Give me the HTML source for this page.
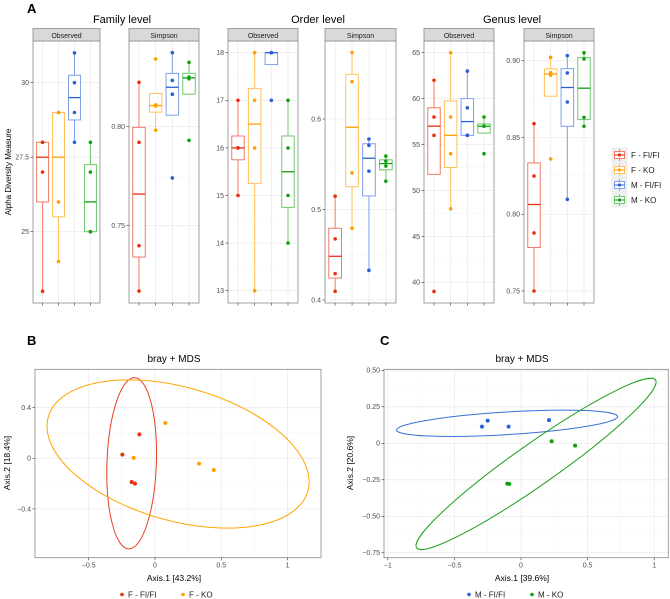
<!DOCTYPE html>
<html><head><meta charset="utf-8">
<style>
body{margin:0;background:#fff;}
svg{display:block;font-family:"Liberation Sans","DejaVu Sans",sans-serif;}
</style></head>
<body>
<svg id="fig" width="670" height="599" viewBox="0 0 670 599" xmlns="http://www.w3.org/2000/svg">
<text x="27" y="13" font-size="13" font-weight="bold">A</text>
<text x="122" y="23" font-size="11" text-anchor="middle">Family level</text>
<text x="318" y="23" font-size="11" text-anchor="middle">Order level</text>
<text x="512" y="23" font-size="11" text-anchor="middle">Genus level</text>
<text transform="translate(11,172) rotate(-90)" font-size="8" text-anchor="middle">Alpha Diversity Measure</text>
<text x="27" y="345" font-size="13" font-weight="bold">B</text>
<text x="380" y="345" font-size="13" font-weight="bold">C</text>
<text x="174" y="362" font-size="10" text-anchor="middle">bray + MDS</text>
<text x="522" y="362" font-size="10" text-anchor="middle">bray + MDS</text>
<text x="174" y="581" font-size="8.5" text-anchor="middle">Axis.1 [43.2%]</text>
<text transform="translate(10,463) rotate(-90)" font-size="8.5" text-anchor="middle">Axis.2 [18.4%]</text>
<text x="522" y="581" font-size="8.5" text-anchor="middle">Axis.1 [39.6%]</text>
<text transform="translate(353,463) rotate(-90)" font-size="8.5" text-anchor="middle">Axis.2 [20.6%]</text>
</svg>
<script>
const NS="http://www.w3.org/2000/svg";
const svg=document.getElementById('fig');
const groups=["F - FI/FI","F - KO","M - FI/FI","M - KO"];
const lineCols=["#f07a66","#ffc15a","#7fa0ea","#6cc86c"];
const darkCols=["#e8300e","#ff9f00","#2b5fd6","#10a010"];
// panel A data (4 values per group)
const famObs=[[28,28,27,23],[29,29,26,24],[31,30,29,28],[28,27,25,25]];
const famSimp=[[0.8224,0.7921,0.7399,0.7170],[0.8342,0.8110,0.8104,0.7982],[0.8374,0.8234,0.8164,0.7741],[0.8325,0.8251,0.8242,0.7931]];
const ordObs=[[17,16,16,15],[18,17,16,13],[18,18,18,17],[17,16,15,14]];
const ordSimp=[[0.5147,0.4675,0.4291,0.4096],[0.6734,0.6413,0.5405,0.4793],[0.5779,0.5709,0.5424,0.4328],[0.559,0.5535,0.548,0.5313]];
const genObs=[[62,58,56,39],[65,58,54,48],[63,59,56,56],[58,57,57,54]];
const genSimp=[[0.859,0.8249,0.7878,0.75],[0.9022,0.8922,0.8905,0.836],[0.9033,0.892,0.8731,0.8097],[0.9052,0.9011,0.8631,0.8573]];
const famObsTicks=[25,27.5,30], famObsTickLabels=["25","27.5","30"];
const famSimpTicks=[0.75,0.80], famSimpTickLabels=["0.75","0.80"];
const ordObsTicks=[13,14,15,16,17,18], ordObsTickLabels=["13","14","15","16","17","18"];
const ordSimpTicks=[0.4,0.5,0.6], ordSimpTickLabels=["0.4","0.5","0.6"];
const genObsTicks=[40,45,50,55,60,65], genObsTickLabels=["40","45","50","55","60","65"];
const genSimpTicks=[0.75,0.80,0.85,0.90], genSimpTickLabels=["0.75","0.80","0.85","0.90"];
// panel B/C data
const bRedX=[-0.246,-0.118,-0.176,-0.151], bRedY=[0.029,0.189,-0.187,-0.2];
const bOrgX=[-0.161,0.078,0.332,0.443], bOrgY=[0.003,0.279,-0.042,-0.092];
const cBluX=[-0.293,-0.25,-0.093,0.21], cBluY=[0.114,0.155,0.114,0.159];
const cGrnX=[0.23,0.406,-0.103,-0.088], cGrnY=[0.014,-0.016,-0.276,-0.278];
const bXTicks=[-0.5,0,0.5,1], bXTickLabels=["\u22120.5","0","0.5","1"];
const bYTicks=[-0.4,0,0.4], bYTickLabels=["\u22120.4","0","0.4"];
const cXTicks=[-1,-0.5,0,0.5,1], cXTickLabels=["\u22121","\u22120.5","0","0.5","1"];
const cYTicks=[-0.75,-0.5,-0.25,0,0.25,0.5], cYTickLabels=["\u22120.75","\u22120.50","\u22120.25","0","0.25","0.50"];

function el(tag,attrs,parent){const e=document.createElementNS(NS,tag);for(const k in attrs)e.setAttribute(k,attrs[k]);(parent||svg).appendChild(e);return e;}
function q(s,p){const h=(s.length-1)*p,lo=Math.floor(h),hi=Math.ceil(h);return s[lo]+(s[hi]-s[lo])*(h-lo);}

function boxPanel(name,x0,x1,strip,data,ticks,labels,v1,p1,v2,p2){
  const top=41,bot=303;
  const g=el('g',{});
  
  
  const y=v=>p1+(v-v1)*(p2-p1)/(v2-v1);
  const unit=(x1-x0)/4.2;
  const xg=i=>x0+(0.6+i)*unit;
  el('rect',{x:x0,y:top,width:x1-x0,height:bot-top,fill:'#fff'},g);
  // grid
  for(let i=0;i<ticks.length;i++){
    const l=el('line',{x1:x0,x2:x1,y1:y(ticks[i]),y2:y(ticks[i]),stroke:'#ebebeb','stroke-width':0.8},g);
    
    if(i<ticks.length-1){const m=(ticks[i]+ticks[i+1])/2;el('line',{x1:x0,x2:x1,y1:y(m),y2:y(m),stroke:'#f3f3f3','stroke-width':0.5},g);}
  }
  for(let i=0;i<4;i++) el('line',{x1:xg(i),x2:xg(i),y1:top,y2:bot,stroke:'#ebebeb','stroke-width':0.8},g);
  // boxes
  data.forEach((vals,i)=>{
    const s=vals.slice().sort((a,b)=>a-b);
    const q1=q(s,0.25),md=q(s,0.5),q3=q(s,0.75),iqr=q3-q1;
    const inr=s.filter(v=>v>=q1-1.5*iqr&&v<=q3+1.5*iqr);
    const lo=Math.min(...inr),hi=Math.max(...inr);
    const cx=xg(i),hw=unit*0.375;
    const bg=el('g',{},g);
    
    
    el('line',{x1:cx,x2:cx,y1:y(hi),y2:y(q3),stroke:lineCols[i],'stroke-width':1},bg);
    el('line',{x1:cx,x2:cx,y1:y(q1),y2:y(lo),stroke:lineCols[i],'stroke-width':1},bg);
    el('rect',{x:cx-hw,y:y(q3),width:2*hw,height:Math.max(0.5,y(q1)-y(q3)),fill:'#fff',stroke:lineCols[i],'stroke-width':1},bg);
    el('line',{x1:cx-hw,x2:cx+hw,y1:y(md),y2:y(md),stroke:darkCols[i],'stroke-width':1.3},bg);
    vals.forEach(v=>{const c=el('circle',{cx:cx,cy:y(v),r:1.8,fill:darkCols[i]},bg);
      });
  });
  el('rect',{x:x0,y:top,width:x1-x0,height:bot-top,fill:'none',stroke:'#8a8a8a','stroke-width':0.8},g);
  // strip
  const sr=el('rect',{x:x0,y:28.5,width:x1-x0,height:12.5,fill:'#d9d9d9',stroke:'#8a8a8a','stroke-width':0.8},g);
  
  const st=el('text',{x:(x0+x1)/2,y:37.8,'font-size':7,'text-anchor':'middle',fill:'#1a1a1a'},g);st.textContent=strip;
  // ticks
  ticks.forEach((t,i)=>{
    el('line',{x1:x0-2.5,x2:x0,y1:y(t),y2:y(t),stroke:'#333','stroke-width':0.6},g);
    const tx=el('text',{x:x0-4,y:y(t)+2.4,'font-size':7,'text-anchor':'end',fill:'#4d4d4d'},g);
    tx.textContent=labels[i];
    
  });
  for(let i=0;i<4;i++) el('line',{x1:xg(i),x2:xg(i),y1:bot,y2:bot+2.5,stroke:'#333','stroke-width':0.6},g);
}
boxPanel('family-observed',33,100,'Observed',famObs,famObsTicks,famObsTickLabels,30,82.7,25,231.7);
boxPanel('family-simpson',129,199,'Simpson',famSimp,famSimpTicks,famSimpTickLabels,0.80,126.7,0.75,225.7);
boxPanel('order-observed',228,298,'Observed',ordObs,ordObsTicks,ordObsTickLabels,18,52.7,13,290.7);
boxPanel('order-simpson',325,396,'Simpson',ordSimp,ordSimpTicks,ordSimpTickLabels,0.6,119,0.4,300);
boxPanel('genus-observed',424,494,'Observed',genObs,genObsTicks,genObsTickLabels,65,52.7,40,282.3);
boxPanel('genus-simpson',524,594,'Simpson',genSimp,genSimpTicks,genSimpTickLabels,0.90,60.7,0.75,291);

// legend A
const lg=el('g',{});


groups.forEach((gname,i)=>{
  const cy=155+i*15;
  const e=el('g',{},lg);
  
  
  el('rect',{x:612,y:cy-7,width:15,height:14,fill:'#f2f2f2',stroke:'#e0e0e0','stroke-width':0.5},e);
  el('line',{x1:619.5,x2:619.5,y1:cy-6,y2:cy+6,stroke:lineCols[i],'stroke-width':1},e);
  el('rect',{x:614.5,y:cy-3.5,width:10,height:7,fill:'#fff',stroke:lineCols[i],'stroke-width':1},e);
  el('line',{x1:614.5,x2:624.5,y1:cy,y2:cy,stroke:darkCols[i],'stroke-width':1},e);
  el('circle',{cx:619.5,cy:cy,r:1.6,fill:darkCols[i]},e);
  const t=el('text',{x:631,y:cy+3,'font-size':8,fill:'#1a1a1a'},e);t.textContent=gname;
});

function scatterPanel(name,x0,x1,y0,y1,xv0,xp0,xv1,xp1,yv0,yp0,yv1,yp1,xt,xtl,yt,ytl,series,ellipses){
  const g=el('g',{});
  
  
  const X=v=>xp0+(v-xv0)*(xp1-xp0)/(xv1-xv0);
  const Y=v=>yp0+(v-yv0)*(yp1-yp0)/(yv1-yv0);
  const cp=el('clipPath',{id:name+'-clip'},g);el('rect',{x:x0,y:y0,width:x1-x0,height:y1-y0},cp);
  xt.forEach((t,i)=>{el('line',{x1:X(t),x2:X(t),y1:y0,y2:y1,stroke:'#ebebeb','stroke-width':0.8},g);
    if(i<xt.length-1){const m=(t+xt[i+1])/2;el('line',{x1:X(m),x2:X(m),y1:y0,y2:y1,stroke:'#f4f4f4','stroke-width':0.5},g);}});
  yt.forEach((t,i)=>{el('line',{x1:x0,x2:x1,y1:Y(t),y2:Y(t),stroke:'#ebebeb','stroke-width':0.8},g);
    if(i<yt.length-1){const m=(t+yt[i+1])/2;el('line',{x1:x0,x2:x1,y1:Y(m),y2:Y(m),stroke:'#f4f4f4','stroke-width':0.5},g);}});
  const eg=el('g',{'clip-path':'url(#'+name+'-clip)'},g);
  ellipses.forEach(E=>{
    const cx=X(E.cx),cy=Y(E.cy);
    const e=el('ellipse',{cx:cx,cy:cy,rx:E.a,ry:E.b,fill:'none',stroke:E.col,'stroke-width':1,transform:'rotate('+E.rot+' '+cx+' '+cy+')'},eg);
    
    
  });
  series.forEach(S=>{S.x.forEach((v,i)=>{
    const c=el('circle',{cx:X(v),cy:Y(S.y[i]),r:2,fill:S.col},g);
    
    
  });});
  el('rect',{x:x0,y:y0,width:x1-x0,height:y1-y0,fill:'none',stroke:'#8a8a8a','stroke-width':0.8},g);
  xt.forEach((t,i)=>{el('line',{x1:X(t),x2:X(t),y1:y1,y2:y1+2.5,stroke:'#333','stroke-width':0.6},g);
    const tx=el('text',{x:X(t),y:y1+10,'font-size':7,'text-anchor':'middle',fill:'#4d4d4d'},g);tx.textContent=xtl[i];});
  yt.forEach((t,i)=>{el('line',{x1:x0-2.5,x2:x0,y1:Y(t),y2:Y(t),stroke:'#333','stroke-width':0.6},g);
    const tx=el('text',{x:x0-4,y:Y(t)+2.4,'font-size':7,'text-anchor':'end',fill:'#4d4d4d'},g);tx.textContent=ytl[i];});
}
scatterPanel('panel-b-mds',35,321,369.3,557.7,0,155,1,287.6,0,458.3,0.4,407.7,bXTicks,bXTickLabels,bYTicks,bYTickLabels,
  [{x:bRedX,y:bRedY,col:darkCols[0]},{x:bOrgX,y:bOrgY,col:darkCols[1]}],
  [{cx:-0.176,cy:-0.039,a:24.7,b:85.7,rot:2,col:'#e8401f'},{cx:0.174,cy:0.034,a:135,b:66.7,rot:16,col:'#ffa500'}]);
scatterPanel('panel-c-mds',384,668.3,369.3,557.7,0,521,1,654.2,0,443.3,0.5,370.3,cXTicks,cXTickLabels,cYTicks,cYTickLabels,
  [{x:cBluX,y:cBluY,col:darkCols[2]},{x:cGrnX,y:cGrnY,col:darkCols[3]}],
  [{cx:-0.105,cy:0.137,a:110.7,b:11.3,rot:-3.5,col:'#3a6fd8'},{cx:0.113,cy:-0.141,a:146,b:20.7,rot:-35.1,col:'#1aa01a'}]);

function legendRow(name,items){
  const g=el('g',{});
  
  
  items.forEach(it=>{
    const e=el('g',{},g);
    
    
    el('circle',{cx:it.x,cy:594.5,r:1.8,fill:it.col},e);
    const t=el('text',{x:it.x+6,y:597.5,'font-size':8,fill:'#1a1a1a'},e);t.textContent=it.label;
  });
}
legendRow('legend-panel-b',[{x:122,col:darkCols[0],label:groups[0]},{x:183,col:darkCols[1],label:groups[1]}]);
legendRow('legend-panel-c',[{x:469,col:darkCols[2],label:groups[2]},{x:532,col:darkCols[3],label:groups[3]}]);
</script>
</body></html>
